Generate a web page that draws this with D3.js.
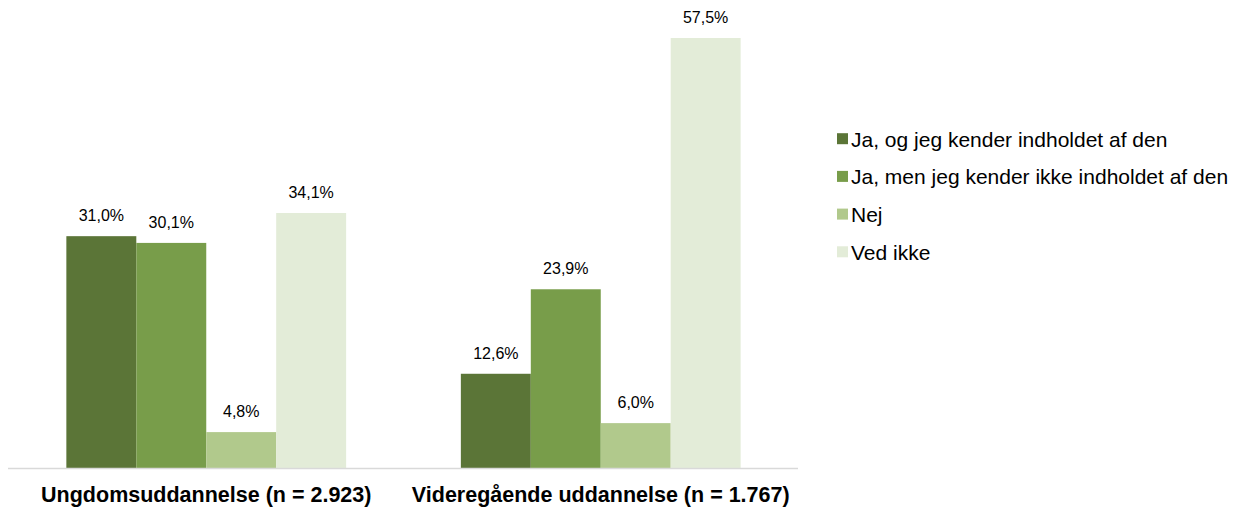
<!DOCTYPE html>
<html><head><meta charset="utf-8">
<script src="https://cdn.jsdelivr.net/npm/d3@7"></script>
<style>body{margin:0;background:#fff}svg{display:block}text{font-family:"Liberation Sans",Arial,sans-serif}</style>
</head><body><svg id="c" width="1241" height="508"></svg>
<script>
const categories = ["Ungdomsuddannelse (n = 2.923)", "Videregående uddannelse (n = 1.767)"];
const seriesNames = ["Ja, og jeg kender indholdet af den", "Ja, men jeg kender ikke indholdet af den", "Nej", "Ved ikke"];
const seriesValues = [
  [31.0, 12.6],
  [30.1, 23.9],
  [4.8, 6.0],
  [34.1, 57.5]
];
const colors = ["#5b7537", "#789d4a", "#b1c98c", "#e3ecd8"];

const svg = d3.select("#c");
const x0 = 9, x1 = 798, yBase = 468;
const x = d3.scaleBand().domain(categories).range([x0, x1]).paddingInner(0).paddingOuter(0);
const inner = d3.scaleBand().domain(d3.range(seriesNames.length)).range([0, x.bandwidth()]).paddingInner(0).paddingOuter(0.82);
const y = d3.scaleLinear().domain([0, 57.5]).range([yBase, 38]);

const data = [];
seriesValues.forEach((vals, si) => vals.forEach((v, ci) => data.push({si, ci, v})));

svg.selectAll("rect.bar").data(data).join("rect").attr("class","bar")
  .attr("x", d => x(categories[d.ci]) + inner(d.si))
  .attr("width", inner.bandwidth())
  .attr("y", d => y(d.v))
  .attr("height", d => yBase - y(d.v))
  .attr("fill", d => colors[d.si]);

svg.selectAll("text.lbl").data(data).join("text").attr("class","lbl")
  .attr("x", d => x(categories[d.ci]) + inner(d.si) + inner.bandwidth()/2)
  .attr("y", d => y(d.v) - 15)
  .attr("text-anchor","middle").attr("font-size", 16).attr("fill","#000")
  .text(d => d.v.toFixed(1).replace(".", ",") + "%");

svg.append("line").attr("x1", x0 - 1).attr("x2", x1).attr("y1", yBase + 0.5).attr("y2", yBase + 0.5)
  .attr("stroke", "#d9d9d9").attr("stroke-width", 1.5);

svg.selectAll("text.cat").data(categories).join("text").attr("class","cat")
  .attr("x", d => x(d) + x.bandwidth()/2).attr("y", 502)
  .attr("text-anchor","middle").attr("font-size", 21.5).attr("font-weight","bold").attr("fill","#000")
  .text(d => d);

const lg = svg.append("g");
seriesNames.forEach((n, i) => {
  const cy = 138.7 + i * 37.7;
  lg.append("rect").attr("x", 837).attr("y", cy - 5.5).attr("width", 11).attr("height", 11).attr("fill", colors[i]);
  lg.append("text").attr("x", 851).attr("y", cy + 7.8).attr("font-size", 21).attr("fill","#000").text(n);
});
</script></body></html>
